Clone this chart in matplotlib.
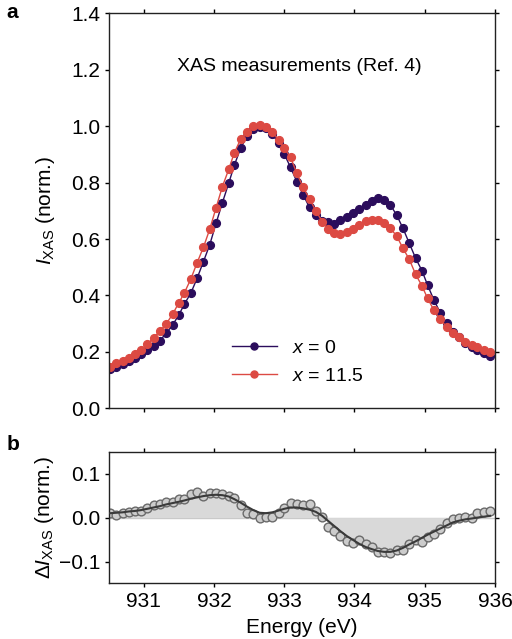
import matplotlib
matplotlib.use("Agg")
import matplotlib.pyplot as plt
import numpy as np

plt.rcParams['font.family'] = ['Liberation Sans', 'DejaVu Sans']
plt.rcParams['mathtext.fontset'] = 'custom'
plt.rcParams['mathtext.rm'] = 'Liberation Sans'
plt.rcParams['mathtext.it'] = 'Liberation Sans:italic'

# photon energy grid (eV)
energy = [930.52, 930.61, 930.70, 930.79, 930.87, 930.96, 931.05, 931.14, 931.23, 931.32,
          931.41, 931.50, 931.58, 931.67, 931.76, 931.85, 931.94, 932.03, 932.12, 932.21,
          932.29, 932.38, 932.47, 932.56, 932.65, 932.74, 932.83, 932.92, 933.00, 933.09,
          933.18, 933.27, 933.36, 933.45, 933.54, 933.62, 933.71, 933.80, 933.89, 933.98,
          934.07, 934.16, 934.25, 934.33, 934.42, 934.51, 934.60, 934.69, 934.78, 934.87,
          934.96, 935.04, 935.13, 935.22, 935.31, 935.40, 935.49, 935.58, 935.67, 935.75,
          935.84, 935.93]

# x = 0
xas_x0 = [0.138, 0.148, 0.157, 0.167, 0.178, 0.193, 0.207, 0.221, 0.240, 0.266,
          0.295, 0.331, 0.370, 0.408, 0.461, 0.520, 0.580, 0.656, 0.729, 0.798,
          0.862, 0.922, 0.965, 0.990, 0.998, 0.993, 0.972, 0.939, 0.901, 0.854,
          0.803, 0.756, 0.712, 0.685, 0.664, 0.660, 0.655, 0.667, 0.679, 0.691,
          0.705, 0.720, 0.733, 0.745, 0.738, 0.721, 0.685, 0.638, 0.585, 0.532,
          0.488, 0.437, 0.384, 0.339, 0.301, 0.272, 0.252, 0.233, 0.218, 0.207,
          0.195, 0.185]

# x = 11.5
xas_x115 = [0.147, 0.159, 0.169, 0.179, 0.193, 0.207, 0.227, 0.250, 0.274, 0.299,
            0.333, 0.374, 0.410, 0.458, 0.516, 0.571, 0.635, 0.711, 0.786, 0.847,
            0.906, 0.954, 0.978, 1.000, 1.003, 0.996, 0.980, 0.951, 0.922, 0.889,
            0.833, 0.783, 0.742, 0.700, 0.662, 0.636, 0.620, 0.618, 0.624, 0.635,
            0.650, 0.663, 0.669, 0.668, 0.656, 0.638, 0.611, 0.567, 0.528, 0.475,
            0.434, 0.390, 0.348, 0.315, 0.289, 0.268, 0.252, 0.236, 0.224, 0.216,
            0.207, 0.200]

# difference (measured) and smooth fit
diff = [0.011, 0.005, 0.010, 0.012, 0.014, 0.016, 0.021, 0.029, 0.030, 0.035,
        0.036, 0.043, 0.042, 0.053, 0.058, 0.050, 0.055, 0.055, 0.054, 0.049,
        0.045, 0.028, 0.011, 0.008, -0.002, 0.002, 0.002, 0.011, 0.021, 0.034,
        0.031, 0.029, 0.030, 0.014, 0.001, -0.022, -0.030, -0.043, -0.053, -0.057,
        -0.052, -0.060, -0.066, -0.078, -0.078, -0.081, -0.073, -0.073, -0.060, -0.051,
        -0.055, -0.045, -0.037, -0.025, -0.013, -0.004, 0.000, 0.001, -0.002, 0.011,
        0.013, 0.014]

diff_fit = [0.010, 0.011, 0.012, 0.014, 0.015, 0.017, 0.020, 0.023, 0.026, 0.030,
            0.033, 0.036, 0.039, 0.043, 0.046, 0.049, 0.051, 0.052, 0.051, 0.048,
            0.042, 0.034, 0.025, 0.017, 0.011, 0.010, 0.012, 0.016, 0.020, 0.023,
            0.023, 0.021, 0.018, 0.013, 0.004, -0.007, -0.019, -0.031, -0.042, -0.051,
            -0.060, -0.067, -0.072, -0.076, -0.078, -0.078, -0.075, -0.069, -0.061, -0.054,
            -0.046, -0.039, -0.032, -0.025, -0.018, -0.011, -0.007, -0.004, -0.002, 0.000,
            0.002, 0.004]

dark = '#2b0d5c'
red = '#dc4a43'

fig = plt.figure(figsize=(5.12, 6.39), dpi=100)
ax1 = fig.add_axes([0.2121, 0.3610, 0.7547, 0.6182])
ax2 = fig.add_axes([0.2121, 0.0869, 0.7547, 0.2062])

ax1.plot(energy, xas_x0, '-o', color=dark, lw=1, ms=5.6, label='$x$ = 0')
ax1.plot(energy, xas_x115, '-o', color=red, lw=1, ms=5.6, label='$x$ = 11.5')
ax1.set_xlim(930.5, 936)
ax1.set_ylim(0, 1.4)
ax1.set_yticks(np.arange(0, 1.41, 0.2))
ax1.set_xticks([931, 932, 933, 934, 935, 936])
ax1.set_xticklabels([])
ax1.set_ylabel('$I_{\\rm XAS}$ (norm.)', fontsize=15, labelpad=10)
ax1.text(933.22, 1.21, 'XAS measurements (Ref. 4)', fontsize=14, ha='center', va='center')
leg = ax1.legend(loc='center left', bbox_to_anchor=(0.319, 0.117), frameon=False,
                 fontsize=14, handlelength=2.3, handletextpad=0.8, labelspacing=0.55,
                 borderpad=0, borderaxespad=0, markerscale=0.9)

ax2.axhline(0, color='#c8c8c8', lw=1, zorder=1)
ax2.fill_between(energy, diff_fit, 0, color='#d9d9d9', lw=0, zorder=1)
ax2.plot(energy, diff, 'o', ms=6.3, mfc='#cccccc', mec='#6a6a6a', mew=1, zorder=2)
ax2.plot(energy, diff_fit, '-', color='#3a3a3a', lw=1.5, zorder=3)
ax2.set_xlim(930.5, 936)
ax2.set_ylim(-0.15, 0.15)
ax2.set_yticks([-0.1, 0.0, 0.1])
ax2.set_xticks([931, 932, 933, 934, 935, 936])
ax2.set_xlabel('Energy (eV)', fontsize=15, labelpad=5)
ax2.set_ylabel('$\\Delta I_{\\rm XAS}$ (norm.)', fontsize=15, labelpad=2)

for ax in (ax1, ax2):
    ax.tick_params(direction='out', length=3, width=1, top=True, right=True,
                   labelsize=15, pad=3)
    for s in ax.spines.values():
        s.set_linewidth(1)
        s.set_color('#222222')

fig.text(0.012, 0.972, 'a', fontsize=15, fontweight='bold')
fig.text(0.012, 0.296, 'b', fontsize=15, fontweight='bold')

fig.savefig('out.png', dpi=100)
